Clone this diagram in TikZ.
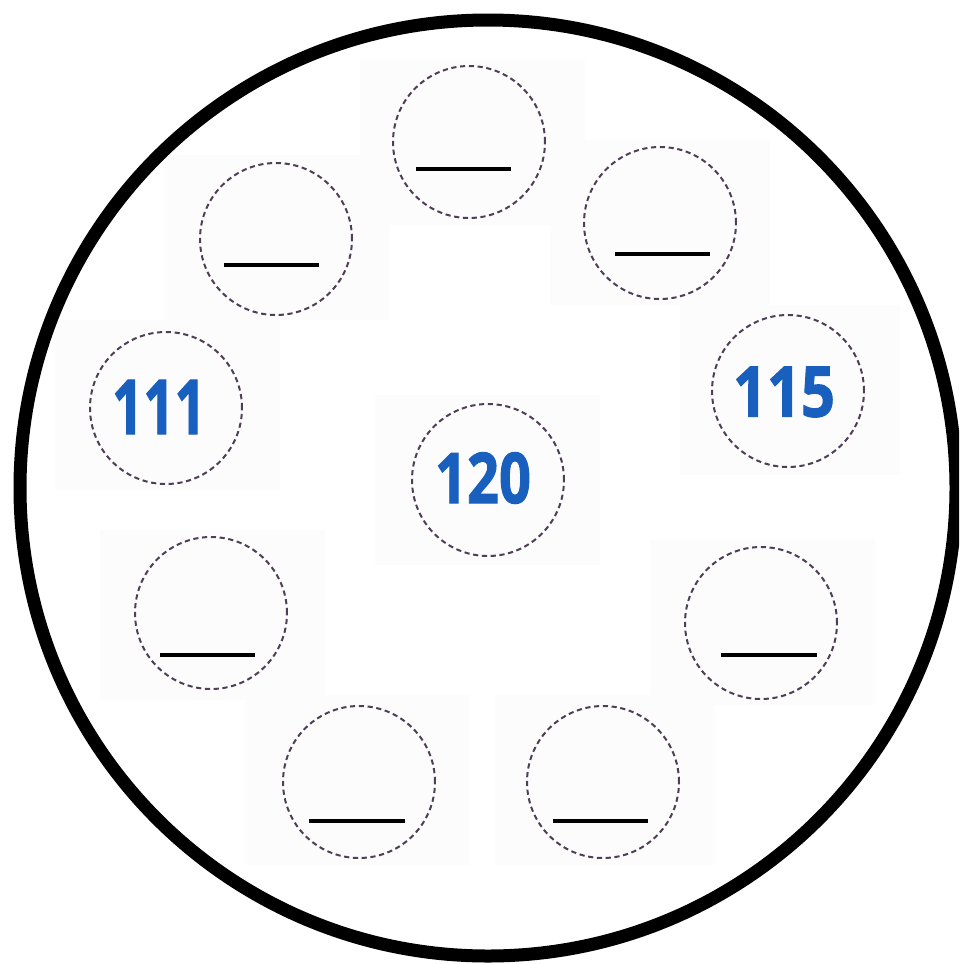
\documentclass[tikz,border=0pt]{standalone}
\usepackage{fontspec}
\usepackage{graphicx}
\newfontfamily\numfont[BoldFeatures={FakeBold=1.6}]{Open Sans}
\definecolor{numblue}{RGB}{24,95,190}
\definecolor{dashc}{RGB}{78,62,86}
\definecolor{boxc}{RGB}{252,252,253}
\begin{document}
\begin{tikzpicture}[x=0.5pt,y=-0.5pt,
  slot/.style={circle,draw=dashc,line width=1pt,dash pattern=on 2.6pt off 1.8pt,minimum size=76pt,inner sep=0pt},
  num/.style={text=numblue,font=\numfont\bfseries\fontsize{35}{35}\selectfont,inner sep=0pt},
  blank/.style={line width=2pt,black},
  bgbox/.style={fill=boxc}]
\useasboundingbox (0,0) rectangle (959,964);
\clip (0,0) rectangle (959,964);
\fill[white] (0,0) rectangle (959,964);
% faint backing boxes
\fill[bgbox] (360,60) rectangle (585,225);
\fill[bgbox] (165,155) rectangle (390,320);
\fill[bgbox] (550,140) rectangle (770,305);
\fill[bgbox] (55,320) rectangle (280,490);
\fill[bgbox] (680,305) rectangle (900,475);
\fill[bgbox] (375,395) rectangle (600,565);
\fill[bgbox] (100,530) rectangle (325,700);
\fill[bgbox] (650,540) rectangle (875,705);
\fill[bgbox] (245,695) rectangle (470,865);
\fill[bgbox] (495,695) rectangle (715,865);
% outer ring
\draw[line width=6.5pt] (488,488) circle[radius=468];
% dashed slots
\node[slot] (top) at (469,142) {};
\node[slot] (tl) at (276,239) {};
\node[slot] (tr) at (660,223) {};
\node[slot] (lf) at (166,408) {};
\node[slot] (rt) at (788,391) {};
\node[slot] (ct) at (488,480) {};
\node[slot] (ll) at (211,613) {};
\node[slot] (lr) at (761,623) {};
\node[slot] (bl) at (359,782) {};
\node[slot] (br) at (603,782) {};
% numbers
\node[num,font=\numfont\bfseries\fontsize{38}{38}\selectfont] (n111) at (159,407) {\scalebox{0.72}[1]{111}};
\node[num] (n120) at (483,478) {\scalebox{0.8}[1]{120}};
\node[num] (n115) at (784,392) {\scalebox{0.85}[1]{115}};
% blanks
\draw[blank] (416,169) -- (511,169);
\draw[blank] (224,265) -- (319,265);
\draw[blank] (615,254) -- (710,254);
\draw[blank] (160,655) -- (255,655);
\draw[blank] (721,655) -- (817,655);
\draw[blank] (309,821) -- (405,821);
\draw[blank] (553,821) -- (648,821);
\end{tikzpicture}
\end{document}
